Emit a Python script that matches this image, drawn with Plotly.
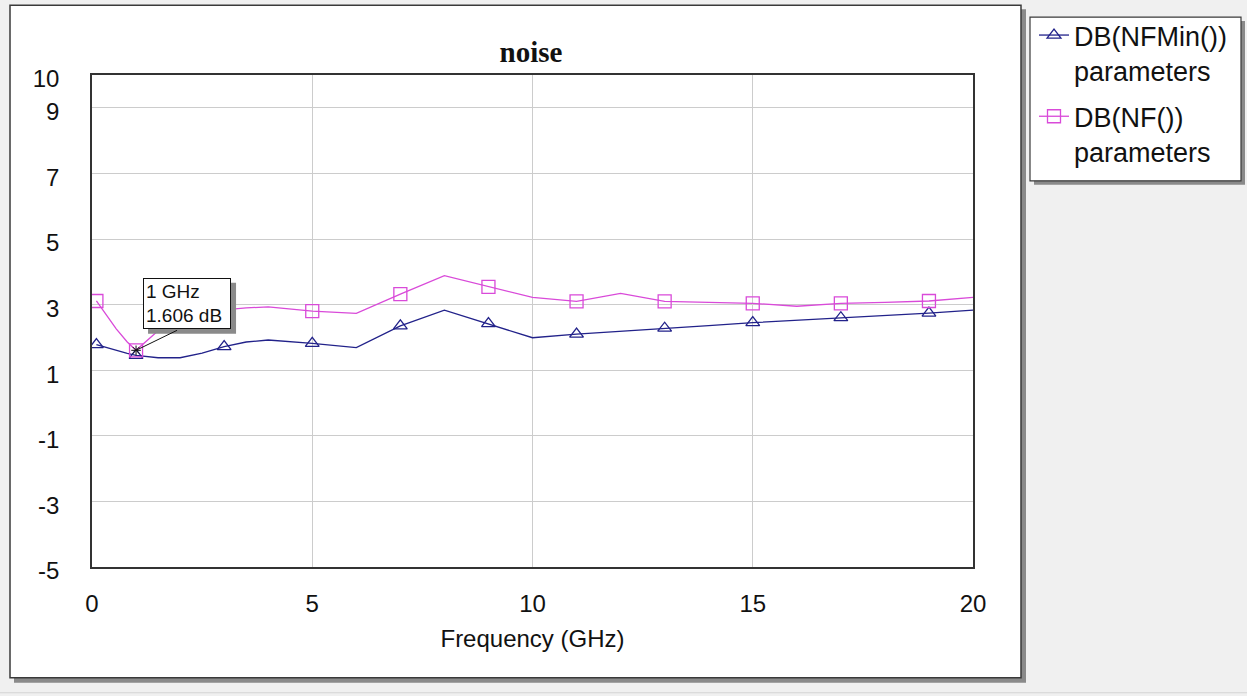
import plotly.graph_objects as go

# ---------------- data ----------------
freq = [0.1, 0.3, 0.55, 0.8, 1, 1.5, 2, 2.5, 3, 3.5, 4, 4.5, 5, 6, 7, 8, 9, 10,
        11, 12, 13, 14, 15, 16, 17, 18, 19, 20]
nfmin_db = [1.78, 1.7, 1.6, 1.51, 1.45, 1.38, 1.38, 1.52, 1.72, 1.86, 1.92, 1.88, 1.82,
            1.69, 2.35, 2.83, 2.42, 1.99, 2.1, 2.18, 2.28, 2.36, 2.45, 2.52, 2.6,
            2.67, 2.74, 2.83]
nf_db = [3.11, 2.72, 2.26, 1.86, 1.606, 2.2, 2.62, 2.78, 2.85, 2.9, 2.93, 2.87, 2.8,
         2.73, 3.32, 3.88, 3.54, 3.22, 3.1, 3.34, 3.1, 3.06, 3.04, 2.95, 3.04,
         3.07, 3.11, 3.22]
marker_freqs = [0.1, 1, 3, 5, 7, 9, 11, 13, 15, 17, 19]
series_names = ["DB(NFMin())<br>parameters", "DB(NF())<br>parameters"]
x_ticks = [0, 5, 10, 15, 20]
y_ticks = [-5, -3, -1, 1, 3, 5, 7, 9, 10]
marker_freq, marker_val = 1, 1.606
marker_text = "1 GHz<br>1.606 dB"

# ---------------- layout geometry ----------------
W, H = 1247, 696
ML, MR, MT, MB = 92, 274, 74, 129
PW, PH = W - ML - MR, H - MT - MB


def px(x):
    return (x - ML) / PW


def py(y):
    return (H - MB - y) / PH


NAVY = "#22228a"
PINK = "#d94ad9"
FONT = "Liberation Sans, Arial, sans-serif"

marked_idx = [i for i, f in enumerate(freq) if f in marker_freqs]

fig = go.Figure()
fig.add_trace(go.Scatter(
    x=freq, y=nfmin_db, name=series_names[0], mode="lines+markers", legendgroup="g1",
    line=dict(color=NAVY, width=1.3),
    marker=dict(symbol="triangle-up-open", size=12, color=NAVY,
                line=dict(width=1.3, color=NAVY)),
    selectedpoints=marked_idx, unselected=dict(marker=dict(opacity=0)),
))
fig.add_trace(go.Scatter(
    x=freq, y=nf_db, name=series_names[1], mode="lines+markers", legendgroup="g2",
    line=dict(color=PINK, width=1.3),
    marker=dict(symbol="square-open", size=13, color=PINK,
                line=dict(width=1.3, color=PINK)),
    selectedpoints=marked_idx, unselected=dict(marker=dict(opacity=0)),
))
# data marker indicator
fig.add_trace(go.Scatter(
    x=[marker_freq], y=[marker_val], mode="markers", showlegend=False,
    marker=dict(symbol="asterisk-open", size=8, color="#111111",
                line=dict(width=1, color="#111111")),
))

# marker label box geometry (pixel offsets from the marked point)
BOX_DX, BOX_DY = 51, 47          # centre offset (right, up)
BOX_W, BOX_H = 88, 51            # outer size incl. padding and border
SH = 5                           # shadow offset

shapes = [
    # panel shadow + panel
    dict(type="rect", xref="paper", yref="paper", x0=px(14), x1=px(1026),
         y0=py(683), y1=py(8), fillcolor="#8a8a8a", line=dict(width=0), layer="below"),
    dict(type="rect", xref="paper", yref="paper", x0=px(10), x1=px(1021),
         y0=py(678), y1=py(4), fillcolor="white", line=dict(color="#3a3a3a", width=1.5),
         layer="below"),
    # legend box shadow + box
    dict(type="rect", xref="paper", yref="paper", x0=px(1034), x1=px(1245),
         y0=py(184), y1=py(20), fillcolor="#8a8a8a", line=dict(width=0), layer="below"),
    dict(type="rect", xref="paper", yref="paper", x0=px(1030), x1=px(1241),
         y0=py(180), y1=py(16), fillcolor="white", line=dict(color="#3a3a3a", width=1.2),
         layer="below"),
    # bottom status strip
    dict(type="line", xref="paper", yref="paper", x0=px(0), x1=px(W),
         y0=py(693), y1=py(693), line=dict(color="#d4d4d4", width=1), layer="below"),
    # marker label shadow
    dict(type="rect", xref="x", yref="y", xsizemode="pixel", ysizemode="pixel",
         xanchor=marker_freq, yanchor=marker_val,
         x0=BOX_DX - BOX_W / 2 + SH, x1=BOX_DX + BOX_W / 2 + SH,
         y0=BOX_DY - BOX_H / 2 - SH, y1=BOX_DY + BOX_H / 2 - SH,
         fillcolor="#8a8a8a", line=dict(width=0), layer="above"),
    # marker leader line
    dict(type="line", xref="x", yref="y", xsizemode="pixel", ysizemode="pixel",
         xanchor=marker_freq, yanchor=marker_val, x0=0, y0=0, x1=41, y1=20,
         line=dict(color="#111111", width=1)),
]

annotations = [
    dict(x=marker_freq, y=marker_val, xref="x", yref="y", showarrow=False,
         xshift=BOX_DX, yshift=BOX_DY, xanchor="center", yanchor="middle",
         text=marker_text, font=dict(family=FONT, size=19, color="#111111"),
         bgcolor="white", bordercolor="#111111", borderwidth=1, borderpad=2,
         width=BOX_W - 6, height=BOX_H - 6, align="left"),
]

fig.update_layout(
    width=W, height=H,
    margin=dict(l=ML, r=MR, t=MT, b=MB, pad=0),
    paper_bgcolor="#f0f0f0", plot_bgcolor="white",
    showlegend=True,
    title=dict(text="<b>noise</b>", x=px(531), xref="paper", xanchor="center",
               y=1 - 52 / H, yref="container", yanchor="middle",
               font=dict(family="Liberation Serif, Times New Roman, serif", size=29,
                         color="#111111")),
    xaxis=dict(range=[0, 20], tickvals=x_ticks, ticktext=[str(v) for v in x_ticks],
               showgrid=True, gridcolor="#cccccc", gridwidth=1.2, zeroline=False,
               showline=True, linecolor="#333333", linewidth=1.5, mirror=True,
               ticks="", ticklabelstandoff=14,
               tickfont=dict(family=FONT, size=24, color="#111111"),
               title=dict(text="Frequency (GHz)", standoff=15,
                          font=dict(family=FONT, size=24, color="#111111"))),
    yaxis=dict(range=[-5, 10], tickvals=y_ticks, ticktext=[str(v) for v in y_ticks],
               showgrid=True, gridcolor="#cccccc", gridwidth=1.2, zeroline=False,
               showline=True, linecolor="#333333", linewidth=1.5, mirror=True,
               ticks="", ticklabelstandoff=26, ticklabelshift=4,
               tickfont=dict(family=FONT, size=24, color="#111111")),
    legend=dict(x=px(1034), y=py(11), xanchor="left", yanchor="top",
                bgcolor="rgba(0,0,0,0)", borderwidth=0, valign="top",
                tracegroupgap=8,
                font=dict(family=FONT, size=27, color="#111111")),
    shapes=shapes,
    annotations=annotations,
    hovermode=False,
)

fig.write_html("out.html")
